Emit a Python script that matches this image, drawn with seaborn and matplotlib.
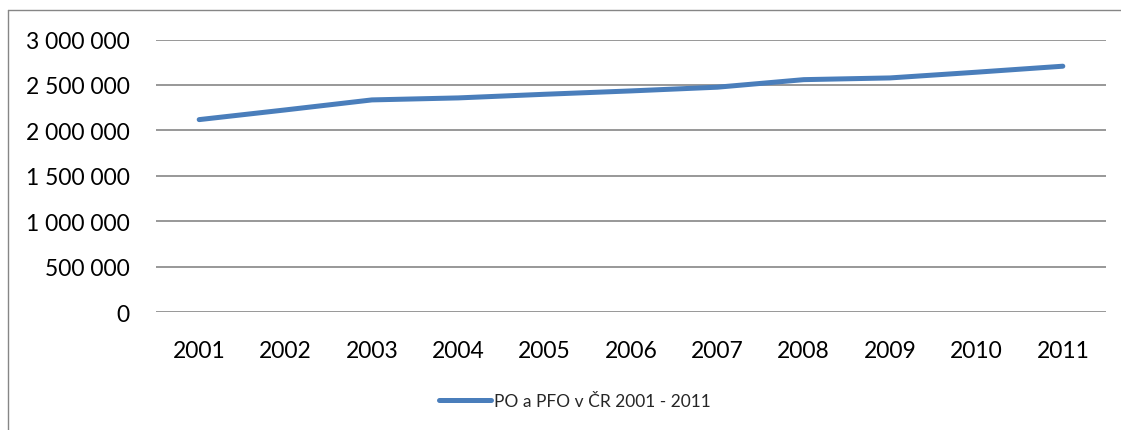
import pandas as pd
import numpy as np
import matplotlib.pyplot as plt
import seaborn as sns
from matplotlib.lines import Line2D
from matplotlib.ticker import FuncFormatter

# 資料 (PO a PFO v ČR)
years = ['2001', '2002', '2003', '2004', '2005', '2006',
         '2007', '2008', '2009', '2010', '2011']
counts = [2118000, 2225000, 2335000, 2357000, 2397000, 2434000,
          2475000, 2558000, 2577000, 2640000, 2706000]
series_name = 'PO a PFO v ČR 2001 - 2011'
y_ticks = [0, 500000, 1000000, 1500000, 2000000, 2500000, 3000000]

df = pd.DataFrame({'year': years, 'count': counts})

sns.set_style('white')
plt.rcParams['font.family'] = ['Lato', 'DejaVu Sans']

fig = plt.figure(figsize=(11.21, 4.31), dpi=100)
ax = fig.add_axes([156 / 1121, 1 - 313 / 431, (1106 - 156) / 1121, (313 - 40.5) / 431])

sns.lineplot(data=df, x='year', y='count', color='#4A7EBB', linewidth=3.6,
             solid_capstyle='round', label=series_name, ax=ax, legend=False)

ax.set_ylim(0, 3000000)
ax.set_xlim(-0.5, len(years) - 0.5)
ax.set_yticks(y_ticks)
ax.yaxis.set_major_formatter(FuncFormatter(lambda v, p: f'{int(v):,}'.replace(',', ' ')))
ax.grid(True, axis='y', color='#868686', linewidth=1.2)
ax.set_axisbelow(True)
ax.tick_params(axis='both', length=0, labelsize=16.5, colors='black')
ax.tick_params(axis='y', pad=19)
ax.tick_params(axis='x', pad=20)
ax.set_xlabel('')
ax.set_ylabel('')
for s in ax.spines.values():
    s.set_visible(False)

# 圖例 (下方)
handle = Line2D([], [], color='#4A7EBB', linewidth=3.6, solid_capstyle='round')
fig.legend([handle], [series_name], loc='center', bbox_to_anchor=(575 / 1121, 1 - 402 / 431),
           frameon=False, fontsize=12.5, handlelength=3.0, handletextpad=0.2)

# 外框
fig.add_artist(Line2D([8 / 1121, 8 / 1121], [0, 1 - 11 / 431], color='#868686', linewidth=1,
                      transform=fig.transFigure))
fig.add_artist(Line2D([8 / 1121, 1], [1 - 11 / 431, 1 - 11 / 431], color='#868686', linewidth=1,
                      transform=fig.transFigure))

plt.savefig('out.png', dpi=100)
